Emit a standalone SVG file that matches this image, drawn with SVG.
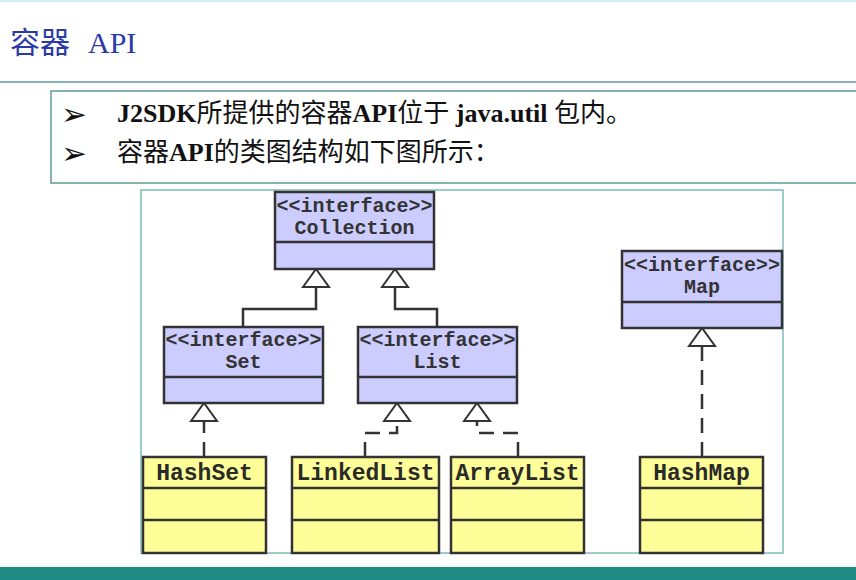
<svg xmlns="http://www.w3.org/2000/svg" width="856" height="580" viewBox="0 0 856 580">
<defs>
<marker id="tri" viewBox="0 0 22 30" refX="20" refY="15" markerWidth="22" markerHeight="30" markerUnits="userSpaceOnUse" orient="auto">
<path d="M2,2 L20,15 L2,28 Z" fill="#ffffff" stroke="#333333" stroke-width="2"/>
</marker>
</defs>
<style>
.iface{fill:#ccccff;stroke:#333333;stroke-width:2.5}
.cls{fill:#ffff99;stroke:#333333;stroke-width:2.5}
.div{stroke:#333333;stroke-width:2.5}
.st{font-family:"Liberation Mono","DejaVu Sans Mono",monospace;font-size:20px;font-weight:bold;fill:#333333;text-anchor:middle}
.cn{font-family:"Liberation Mono","DejaVu Sans Mono",monospace;font-size:23px;font-weight:bold;fill:#2a2a2a;text-anchor:middle}
.solid{fill:none;stroke:#333333;stroke-width:2.5;marker-end:url(#tri)}
.dash{fill:none;stroke:#333333;stroke-width:2.5;stroke-dasharray:15 9;marker-end:url(#tri)}
.bul{font-family:"Liberation Serif","Noto Sans CJK SC",serif;font-size:26px;fill:#111111}
.b{font-weight:bold}
.arr{font-family:"DejaVu Sans",sans-serif;font-size:31px;fill:#111111}
</style>
<rect x="0" y="0" width="856" height="580" fill="#ffffff"/>
<line x1="0" y1="1" x2="856" y2="1" stroke="#cfeff0" stroke-width="2"/>
<text x="10" y="53" font-family="'Liberation Serif','Noto Sans CJK SC',serif" font-size="30" fill="#2b3aa6">容器<tspan x="88">API</tspan></text>
<line x1="0" y1="82" x2="856" y2="82" stroke="#5f9a98" stroke-width="1.5"/>
<rect x="51" y="91" width="820" height="92" fill="#ffffff" stroke="#5f9a98" stroke-width="1.5"/>
<text x="61" y="125" class="arr">➢</text>
<text x="61" y="164" class="arr">➢</text>
<text x="117" y="122" class="bul"><tspan class="b">J2SDK</tspan>所提供的容器<tspan class="b">API</tspan>位于 <tspan class="b">java.util</tspan> 包内。</text>
<text x="117" y="161" class="bul">容器<tspan class="b">API</tspan>的类图结构如下图所示：</text>
<rect x="141" y="190" width="642" height="363" fill="#ffffff" stroke="#7fbcb8" stroke-width="1.5"/>
<rect x="0" y="567" width="856" height="13" fill="#1f8a84"/>

<g id="connectors">
<path class="solid" d="M243,327 V309 H316 V269"/>
<path class="solid" d="M437,327 V309 H395 V269"/>
<path class="dash" d="M204,457 V403"/>
<path class="dash" d="M365,457 V433 H397 V403"/>
<path class="dash" d="M518,457 V433 H477 V403"/>
<path class="dash" d="M702,457 V328"/>
</g>

<g id="Collection">
<rect class="iface" x="275" y="192" width="159" height="77"/>
<line class="div" x1="275" y1="242" x2="434" y2="242"/>
<text class="st" x="354.5" y="212">&lt;&lt;interface&gt;&gt;</text>
<text class="st" x="354.5" y="234">Collection</text>
</g>
<g id="Set">
<rect class="iface" x="164" y="327" width="159" height="76"/>
<line class="div" x1="164" y1="377" x2="323" y2="377"/>
<text class="st" x="243.5" y="346">&lt;&lt;interface&gt;&gt;</text>
<text class="st" x="243.5" y="368">Set</text>
</g>
<g id="List">
<rect class="iface" x="358" y="327" width="159" height="76"/>
<line class="div" x1="358" y1="377" x2="517" y2="377"/>
<text class="st" x="437.5" y="346">&lt;&lt;interface&gt;&gt;</text>
<text class="st" x="437.5" y="368">List</text>
</g>
<g id="Map">
<rect class="iface" x="622" y="251" width="160" height="77"/>
<line class="div" x1="622" y1="302" x2="782" y2="302"/>
<text class="st" x="702" y="271">&lt;&lt;interface&gt;&gt;</text>
<text class="st" x="702" y="293">Map</text>
</g>
<g id="HashSet">
<rect class="cls" x="143" y="457" width="123" height="96"/>
<line class="div" x1="143" y1="488" x2="266" y2="488"/>
<line class="div" x1="143" y1="520" x2="266" y2="520"/>
<text class="cn" x="204.5" y="480">HashSet</text>
</g>
<g id="LinkedList">
<rect class="cls" x="292" y="457" width="147" height="96"/>
<line class="div" x1="292" y1="488" x2="439" y2="488"/>
<line class="div" x1="292" y1="520" x2="439" y2="520"/>
<text class="cn" x="365.5" y="480">LinkedList</text>
</g>
<g id="ArrayList">
<rect class="cls" x="451" y="457" width="133" height="96"/>
<line class="div" x1="451" y1="488" x2="584" y2="488"/>
<line class="div" x1="451" y1="520" x2="584" y2="520"/>
<text class="cn" x="517.5" y="480">ArrayList</text>
</g>
<g id="HashMap">
<rect class="cls" x="640" y="457" width="123" height="96"/>
<line class="div" x1="640" y1="488" x2="763" y2="488"/>
<line class="div" x1="640" y1="520" x2="763" y2="520"/>
<text class="cn" x="701.5" y="480">HashMap</text>
</g>
</svg>
